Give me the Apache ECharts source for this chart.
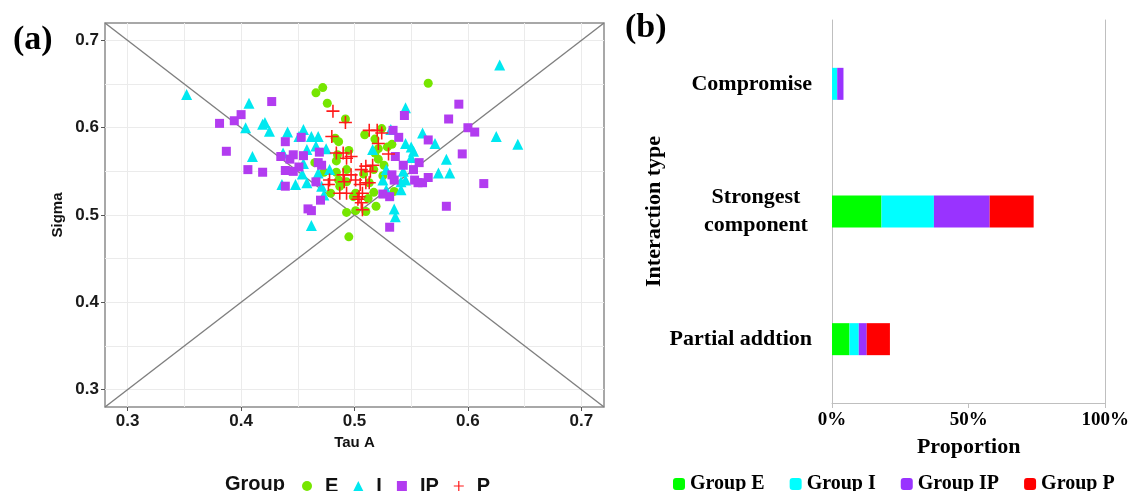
<!DOCTYPE html>
<html>
<head>
<meta charset="utf-8">
<script src="https://cdn.jsdelivr.net/npm/echarts@6/dist/echarts.min.js"></script>
<style>
  html, body { margin: 0; background: #fff; }
  #main { width: 1132px; height: 491px; }
</style>
</head>
<body>
<div id="main"></div>
<script>
// (a) scatter: [Tau A, Sigma]
const groupE = [
  [0.466, 0.640], [0.472, 0.646], [0.476, 0.628], [0.565, 0.651], [0.492, 0.610], [0.509, 0.592],
  [0.524, 0.599], [0.518, 0.587], [0.483, 0.588], [0.486, 0.584], [0.521, 0.576], [0.529, 0.578],
  [0.533, 0.581], [0.495, 0.574], [0.518, 0.571], [0.521, 0.564], [0.465, 0.560], [0.485, 0.569],
  [0.484, 0.562], [0.526, 0.557], [0.473, 0.549], [0.484, 0.549], [0.493, 0.552], [0.508, 0.547],
  [0.517, 0.552], [0.486, 0.540], [0.493, 0.538], [0.513, 0.537], [0.479, 0.525], [0.487, 0.533],
  [0.501, 0.525], [0.512, 0.519], [0.517, 0.526], [0.519, 0.510], [0.535, 0.527], [0.493, 0.503],
  [0.501, 0.505], [0.510, 0.504], [0.495, 0.475], [0.499, 0.521], [0.525, 0.545]
]
const groupI = [
  [0.352, 0.638], [0.407, 0.628], [0.628, 0.672], [0.545, 0.623], [0.404, 0.600], [0.421, 0.606],
  [0.425, 0.596], [0.419, 0.604], [0.410, 0.567], [0.441, 0.595], [0.455, 0.598], [0.451, 0.590],
  [0.462, 0.590], [0.468, 0.590], [0.458, 0.575], [0.466, 0.579], [0.437, 0.571], [0.455, 0.559],
  [0.475, 0.576], [0.532, 0.598], [0.516, 0.575], [0.560, 0.594], [0.545, 0.582], [0.550, 0.578],
  [0.552, 0.573], [0.571, 0.582], [0.625, 0.590], [0.644, 0.581], [0.581, 0.564], [0.574, 0.548],
  [0.584, 0.548], [0.550, 0.566], [0.528, 0.552], [0.543, 0.550], [0.545, 0.540], [0.541, 0.538],
  [0.525, 0.540], [0.436, 0.535], [0.448, 0.535], [0.454, 0.547], [0.468, 0.548], [0.478, 0.552],
  [0.471, 0.533], [0.473, 0.523], [0.541, 0.529], [0.528, 0.529], [0.535, 0.507], [0.536, 0.498],
  [0.462, 0.488], [0.458, 0.537]
]
const groupIP = [
  [0.427, 0.630], [0.381, 0.605], [0.394, 0.608], [0.400, 0.615], [0.387, 0.573], [0.406, 0.552],
  [0.419, 0.549], [0.439, 0.584], [0.453, 0.589], [0.446, 0.569], [0.443, 0.564], [0.435, 0.567],
  [0.455, 0.568], [0.439, 0.551], [0.446, 0.550], [0.451, 0.555], [0.469, 0.572], [0.468, 0.560],
  [0.471, 0.557], [0.466, 0.538], [0.439, 0.533], [0.470, 0.517], [0.459, 0.507], [0.462, 0.505],
  [0.544, 0.614], [0.534, 0.597], [0.539, 0.589], [0.592, 0.627], [0.583, 0.610], [0.600, 0.600],
  [0.606, 0.595], [0.565, 0.586], [0.595, 0.570], [0.536, 0.567], [0.543, 0.557], [0.557, 0.560],
  [0.552, 0.552], [0.533, 0.546], [0.535, 0.540], [0.553, 0.540], [0.556, 0.537], [0.560, 0.537],
  [0.565, 0.543], [0.614, 0.536], [0.581, 0.510], [0.531, 0.521], [0.525, 0.524], [0.531, 0.486]
]
const groupP = [
  [0.481, 0.619], [0.492, 0.606], [0.513, 0.597], [0.520, 0.597], [0.524, 0.594], [0.521, 0.582],
  [0.480, 0.590], [0.490, 0.571], [0.497, 0.567], [0.493, 0.565], [0.510, 0.556], [0.516, 0.557],
  [0.506, 0.552], [0.514, 0.550], [0.497, 0.546], [0.501, 0.540], [0.490, 0.546], [0.491, 0.538],
  [0.478, 0.540], [0.477, 0.535], [0.487, 0.525], [0.505, 0.535], [0.510, 0.537], [0.507, 0.525],
  [0.504, 0.521], [0.506, 0.514], [0.507, 0.506], [0.503, 0.518], [0.493, 0.525], [0.530, 0.570],
  [0.484, 0.571], [0.513, 0.537]
]
const diagUp = [[0.28, 0.28], [0.72, 0.72]]
const diagDown = [[0.28, 0.72], [0.72, 0.28]]
const axisMin = 0.28
const axisMax = 0.72
const majorTicks = [0.3, 0.4, 0.5, 0.6, 0.7]
const gridTicks = [0.3, 0.35, 0.4, 0.45, 0.5, 0.55, 0.6, 0.65, 0.7]

// (b) stacked bars, percent of interactions
const interactionTypes = ['Compromise', 'Strongest component', 'Partial addtion']
const barE = [0, 18.1, 6.4]
const barI = [1.9, 19.2, 3.4]
const barIP = [2.3, 20.4, 2.9]
const barP = [0, 16.1, 8.5]
const percentTicks = [0, 50, 100]

const sans = 'Liberation Sans'
const serif = 'Liberation Serif'
const plusPath = 'path://M4.4,0H5.6V4.4H10V5.6H5.6V10H4.4V5.6H0V4.4H4.4Z'

function gridAxis() {
  return {
    type: 'value', gridIndex: 0, min: axisMin, max: axisMax,
    axisLine: { show: false },
    axisTick: { show: false, customValues: gridTicks },
    axisLabel: { show: false },
    splitLine: { show: true, lineStyle: { color: '#ebebeb', width: 1 } }
  }
}
function labelAxis(dim, name) {
  return {
    type: 'value', gridIndex: 0, min: axisMin, max: axisMax,
    position: dim === 'x' ? 'bottom' : 'left',
    name: name,
    nameLocation: 'middle',
    nameGap: dim === 'x' ? 28 : 40,
    nameTextStyle: { fontFamily: sans, fontWeight: 'bold', fontSize: 15, color: '#111' },
    axisLine: { show: false },
    axisTick: { show: true, length: 4, customValues: majorTicks, lineStyle: { color: '#555' } },
    axisLabel: {
      customValues: majorTicks, margin: 6,
      fontFamily: sans, fontWeight: 'bold', fontSize: 17, color: '#1a1a1a',
      formatter: v => v.toFixed(1)
    },
    splitLine: { show: false }
  }
}

const chart = echarts.init(document.getElementById('main'), null, { renderer: 'canvas' })
chart.setOption({
  animation: false,
  title: [
    { text: '(a)', left: 8, top: 18, textStyle: { fontFamily: serif, fontWeight: 'bold', fontSize: 34, color: '#000' } },
    { text: '(b)', left: 620, top: 6, textStyle: { fontFamily: serif, fontWeight: 'bold', fontSize: 34, color: '#000' } },
    { text: 'Group', left: 220, top: 469, textStyle: { fontFamily: sans, fontWeight: 'bold', fontSize: 20, color: '#111' } }
  ],
  legend: [
    {
      left: 297, top: 471, itemWidth: 10, itemHeight: 10, itemGap: 15,
      textStyle: { fontFamily: sans, fontWeight: 'bold', fontSize: 20, color: '#111', padding: [0, 0, 0, 8] },
      data: [
        { name: 'E', icon: 'circle' },
        { name: 'I', icon: 'triangle' },
        { name: 'IP', icon: 'rect' },
        { name: 'P', icon: plusPath }
      ]
    },
    {
      left: 668, top: 469, itemWidth: 12, itemHeight: 12, itemGap: 25,
      textStyle: { fontFamily: serif, fontWeight: 'bold', fontSize: 20, color: '#000' },
      data: ['Group E', 'Group I', 'Group IP', 'Group P']
    }
  ],
  grid: [
    { left: 105, top: 23, width: 499, height: 384, show: true, borderColor: '#8c8c8c', borderWidth: 1.5 },
    { left: 832, top: 20, width: 274, height: 383 }
  ],
  xAxis: [
    gridAxis(),
    labelAxis('x', 'Tau A'),
    {
      type: 'value', gridIndex: 1, min: 0, max: 100,
      name: 'Proportion', nameLocation: 'middle', nameGap: 33,
      nameTextStyle: { fontFamily: serif, fontWeight: 'bold', fontSize: 22, color: '#000' },
      axisLine: { show: true, lineStyle: { color: '#bfbfbf' } },
      axisTick: { show: true, length: 5, customValues: percentTicks, lineStyle: { color: '#bfbfbf' } },
      axisLabel: {
        customValues: percentTicks, margin: 8,
        fontFamily: serif, fontWeight: 'bold', fontSize: 19, color: '#000',
        formatter: v => v + '%'
      },
      splitLine: { show: false }
    }
  ],
  yAxis: [
    gridAxis(),
    labelAxis('y', 'Sigma'),
    {
      type: 'category', gridIndex: 1, inverse: true, data: interactionTypes,
      name: 'Interaction type', nameLocation: 'middle', nameGap: 153, nameRotate: 90,
      nameTextStyle: { fontFamily: serif, fontWeight: 'bold', fontSize: 22, color: '#000' },
      axisLine: { show: true, lineStyle: { color: '#bfbfbf' } },
      axisTick: { show: false },
      axisLabel: {
        margin: 20, fontFamily: serif, fontWeight: 'bold', fontSize: 22, color: '#000',
        formatter: v => v === 'Strongest component' ? '{c|Strongest}\n{c|component}' : v,
        rich: { c: { width: 112, align: 'center', fontFamily: serif, fontWeight: 'bold', fontSize: 22, lineHeight: 28, color: '#000' } }
      }
    },
    {
      type: 'value', gridIndex: 1, position: 'right', min: 0, max: 1,
      axisLine: { show: true, lineStyle: { color: '#bfbfbf' } },
      axisTick: { show: false }, axisLabel: { show: false }, splitLine: { show: false }
    }
  ],
  series: [
    { type: 'line', name: 'diag1', data: diagUp, xAxisIndex: 0, yAxisIndex: 0, symbol: 'none', silent: true, z: 1, lineStyle: { color: '#7f7f7f', width: 1.4 } },
    { type: 'line', name: 'diag2', data: diagDown, xAxisIndex: 0, yAxisIndex: 0, symbol: 'none', silent: true, z: 1, lineStyle: { color: '#7f7f7f', width: 1.4 } },
    { type: 'scatter', name: 'E', data: groupE, xAxisIndex: 0, yAxisIndex: 0, symbol: 'circle', symbolSize: 9, itemStyle: { color: '#76e600', opacity: 1 } },
    { type: 'scatter', name: 'I', data: groupI, xAxisIndex: 0, yAxisIndex: 0, symbol: 'triangle', symbolSize: 11, itemStyle: { color: '#00e8f0', opacity: 1 } },
    { type: 'scatter', name: 'IP', data: groupIP, xAxisIndex: 0, yAxisIndex: 0, symbol: 'rect', symbolSize: 9, itemStyle: { color: '#b23cf0', opacity: 1 } },
    { type: 'scatter', name: 'P', data: groupP, xAxisIndex: 0, yAxisIndex: 0, symbol: plusPath, symbolSize: 13, itemStyle: { color: '#ff1a1a', opacity: 1 } },
    { type: 'bar', name: 'Group E', stack: 'total', data: barE, xAxisIndex: 2, yAxisIndex: 2, barWidth: 32, itemStyle: { color: '#00ff00' } },
    { type: 'bar', name: 'Group I', stack: 'total', data: barI, xAxisIndex: 2, yAxisIndex: 2, barWidth: 32, itemStyle: { color: '#00ffff' } },
    { type: 'bar', name: 'Group IP', stack: 'total', data: barIP, xAxisIndex: 2, yAxisIndex: 2, barWidth: 32, itemStyle: { color: '#9933ff' } },
    { type: 'bar', name: 'Group P', stack: 'total', data: barP, xAxisIndex: 2, yAxisIndex: 2, barWidth: 32, itemStyle: { color: '#ff0000' } }
  ]
})
</script>
</body>
</html>
